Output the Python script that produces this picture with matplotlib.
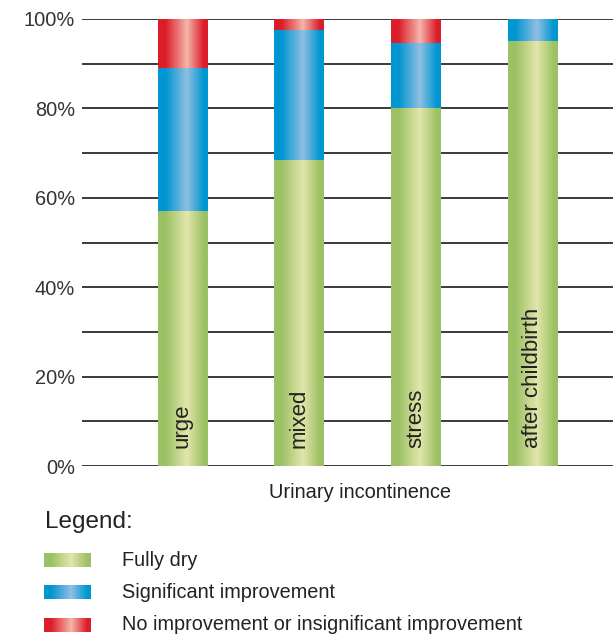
import numpy as np
import matplotlib
matplotlib.use("Agg")
import matplotlib.pyplot as plt
from matplotlib.colors import LinearSegmentedColormap

plt.rcParams['font.family'] = ['Liberation Sans', 'DejaVu Sans']

categories = ["urge", "mixed", "stress", "after childbirth"]
fully_dry = [57, 68.5, 80, 95]
significant = [32, 29, 14.6, 5]
no_improvement = [11, 2.5, 5.4, 0]
series_names = ["Fully dry", "Significant improvement",
                "No improvement or insignificant improvement"]
yticks = [0, 20, 40, 60, 80, 100]
ytick_labels = ["0%", "20%", "40%", "60%", "80%", "100%"]

grad_colors = {
    "Fully dry": ("#9cc164", "#e2e6ab"),
    "Significant improvement": ("#0096d1", "#8fbfe2"),
    "No improvement or insignificant improvement": ("#dc1d2a", "#f5b5aa"),
}

def make_cmap(edge, center):
    return LinearSegmentedColormap.from_list(
        "g", [(0, edge), (0.15, edge), (0.58, center), (0.92, edge), (1, edge)])

grad = np.linspace(0, 1, 256).reshape(1, -1)

fig = plt.figure(figsize=(6.13, 6.37), dpi=100)
ax = fig.add_axes([82/613, 171/637, 531/613, 447/637])
ax.set_xlim(-0.857, 3.693)
ax.set_ylim(0, 100)

# gridlines
for v in np.arange(0, 101, 10):
    ax.axhline(v, color="#3a3a3a", lw=1.4, zorder=1)

x = np.arange(len(categories))
width = 0.42
bottom = np.zeros(len(categories))
for name, vals in zip(series_names, [fully_dry, significant, no_improvement]):
    bars = ax.bar(x, vals, width, bottom=bottom, facecolor="none",
                  edgecolor="none", zorder=2)
    cmap = make_cmap(*grad_colors[name])
    for b in bars:
        if b.get_height() <= 0:
            continue
        x0, y0 = b.get_x(), b.get_y()
        im = ax.imshow(grad, cmap=cmap, aspect="auto",
                       extent=[x0, x0 + b.get_width(), y0, y0 + b.get_height()],
                       zorder=3, interpolation="bilinear")
        im.set_clip_path(b)
    bottom += np.array(vals)

ax.set_xlim(-0.857, 3.693)
ax.set_ylim(0, 100)

for xi, cat in zip(x, categories):
    ax.text(xi, 4.0, cat, rotation=90, ha="center", va="bottom",
            fontsize=16, color="#222222", zorder=5)

ax.set_yticks(yticks)
ax.set_yticklabels(ytick_labels, fontsize=14.4, color="#333333")
ax.tick_params(axis="y", length=0, pad=5)
ax.set_xticks([])
for s in ax.spines.values():
    s.set_visible(False)

fig.text(360/613, 1 - 492/637, "Urinary incontinence", ha="center",
         va="center", fontsize=14.4, color="#222222")

# legend
fig.text(45/613, 1 - 522/637, "Legend:", ha="left", va="center",
         fontsize=17.5, color="#222222")
leg_y = [560, 592, 625]
for name, yc in zip(series_names, leg_y):
    lax = fig.add_axes([44/613, 1 - (yc + 7)/637, 46/613, 14/637])
    lax.imshow(grad, cmap=make_cmap(*grad_colors[name]), aspect="auto",
               interpolation="bilinear")
    lax.axis("off")
    fig.text(122/613, 1 - yc/637, name, ha="left", va="center",
             fontsize=14.3, color="#222222")

fig.savefig("out.png", dpi=100)
